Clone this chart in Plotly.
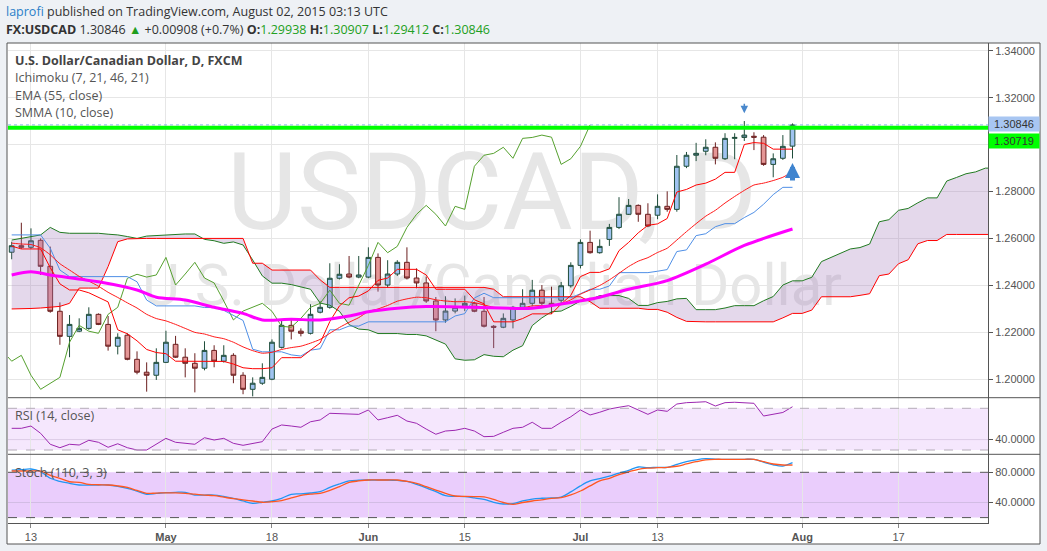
import plotly.graph_objects as go

# ---------------- data ----------------
bar_index = list(range(82))          # Apr 9 .. Jul 31 2015, daily bars
opens = [1.2541, 1.2569, 1.2562, 1.2592, 1.2481, 1.2289, 1.2182, 1.2204, 1.2216, 1.2276,
         1.2233, 1.2140, 1.2187, 1.2084, 1.2029, 1.2016, 1.2071, 1.2148, 1.2093, 1.2067,
         1.2046, 1.2122, 1.2076, 1.2101, 1.2016, 1.1956, 1.1982, 1.1999, 1.2135, 1.2229,
         1.2204, 1.2195, 1.2285, 1.2306, 1.2430, 1.2448, 1.2435, 1.2435, 1.2519, 1.2401,
         1.2448, 1.2498, 1.2431, 1.2410, 1.2333, 1.2252, 1.2290, 1.2312, 1.2323, 1.2289,
         1.2225, 1.2221, 1.2252, 1.2306, 1.2323, 1.2379, 1.2323, 1.2336, 1.2398, 1.2485,
         1.2583, 1.2539, 1.2596, 1.2647, 1.2703, 1.2741, 1.2703, 1.2699, 1.2737, 1.2724,
         1.2908, 1.2955, 1.2972, 1.2989, 1.2940, 1.3027, 1.3031, 1.3036, 1.3032, 1.2916,
         1.2942, 1.29938]
highs = [1.2586, 1.2667, 1.2643, 1.2600, 1.2565, 1.2327, 1.2273, 1.2259, 1.2306, 1.2280,
         1.2269, 1.2195, 1.2195, 1.2118, 1.2071, 1.2131, 1.2206, 1.2184, 1.2131, 1.2110,
         1.2161, 1.2144, 1.2144, 1.2110, 1.2029, 1.2007, 1.2067, 1.2169, 1.2255, 1.2255,
         1.2216, 1.2319, 1.2332, 1.2494, 1.2490, 1.2525, 1.2525, 1.2562, 1.2536, 1.2507,
         1.2507, 1.2562, 1.2472, 1.2437, 1.2350, 1.2353, 1.2344, 1.2356, 1.2330, 1.2350,
         1.2230, 1.2280, 1.2312, 1.2383, 1.2423, 1.2401, 1.2394, 1.2414, 1.2498, 1.2596,
         1.2633, 1.2596, 1.2662, 1.2776, 1.2768, 1.2745, 1.2750, 1.2788, 1.2801, 1.2956,
         1.2969, 1.3008, 1.3023, 1.3010, 1.3049, 1.3049, 1.3101, 1.3053, 1.3041, 1.2963,
         1.3041, 1.30907]
lows = [1.2511, 1.2555, 1.2555, 1.2444, 1.2283, 1.2146, 1.2093, 1.2200, 1.2210, 1.2230,
        1.2121, 1.2105, 1.2080, 1.2020, 1.1946, 1.1996, 1.2068, 1.2090, 1.2007, 1.1943,
        1.2037, 1.2050, 1.2070, 1.1982, 1.1935, 1.1926, 1.1975, 1.1995, 1.2130, 1.2169,
        1.2182, 1.2190, 1.2280, 1.2300, 1.2425, 1.2430, 1.2430, 1.2430, 1.2373, 1.2390,
        1.2440, 1.2425, 1.2387, 1.2325, 1.2204, 1.2240, 1.2280, 1.2290, 1.2285, 1.2220,
        1.2132, 1.2217, 1.2216, 1.2300, 1.2310, 1.2315, 1.2277, 1.2320, 1.2390, 1.2472,
        1.2535, 1.2535, 1.2568, 1.2640, 1.2700, 1.2671, 1.2648, 1.2682, 1.2714, 1.2714,
        1.2900, 1.2930, 1.2955, 1.2916, 1.2935, 1.2938, 1.3016, 1.2977, 1.2910, 1.2861,
        1.2935, 1.29412]
closes = [1.2569, 1.2562, 1.2590, 1.2481, 1.2289, 1.2182, 1.2233, 1.2216, 1.2276, 1.2233,
          1.2140, 1.2178, 1.2084, 1.2029, 1.2016, 1.2071, 1.2157, 1.2093, 1.2067, 1.2046,
          1.2122, 1.2076, 1.2101, 1.2016, 1.1956, 1.1982, 1.2007, 1.2157, 1.2229, 1.2204,
          1.2195, 1.2276, 1.2306, 1.2430, 1.2447, 1.2435, 1.2444, 1.2519, 1.2401, 1.2448,
          1.2498, 1.2431, 1.2410, 1.2333, 1.2252, 1.2290, 1.2306, 1.2323, 1.2289, 1.2225,
          1.2221, 1.2259, 1.2306, 1.2323, 1.2379, 1.2323, 1.2315, 1.2398, 1.2485, 1.2583,
          1.2539, 1.2566, 1.2647, 1.2703, 1.2741, 1.2703, 1.2653, 1.2737, 1.2724, 1.2908,
          1.2955, 1.2963, 1.2989, 1.2942, 1.3027, 1.3031, 1.3041, 1.3032, 1.2916, 1.2940,
          1.2993, 1.30846]

tenkan = [1.2567, 1.2555, 1.2555, 1.2555, 1.2475, 1.2406, 1.2380, 1.2380, 1.2368, 1.2347,
          1.2329, 1.2210, 1.2193, 1.2163, 1.2126, 1.2113, 1.2108, 1.2076, 1.2076, 1.2075,
          1.2075, 1.2075, 1.2075, 1.2064, 1.2048, 1.2044, 1.2044, 1.2048, 1.2091, 1.2091,
          1.2091, 1.2123, 1.2154, 1.2245, 1.2312, 1.2347, 1.2354, 1.2376, 1.2421, 1.2431,
          1.2468, 1.2468, 1.2468, 1.2444, 1.2383, 1.2383, 1.2383, 1.2383, 1.2338, 1.2321,
          1.2244, 1.2244, 1.2244, 1.2258, 1.2278, 1.2278, 1.2278, 1.2320, 1.2357, 1.2437,
          1.2455, 1.2455, 1.2470, 1.2548, 1.2583, 1.2624, 1.2656, 1.2662, 1.2685, 1.2798,
          1.2809, 1.2828, 1.2836, 1.2853, 1.2882, 1.2882, 1.3001, 1.3009, 1.3006, 1.2981,
          1.2981, 1.2981]
kijun = [1.2615, 1.2615, 1.2615, 1.2615, 1.2558, 1.2465, 1.2437, 1.2437, 1.2437, 1.2437,
         1.2437, 1.2437, 1.2437, 1.2415, 1.2337, 1.2312, 1.2312, 1.2312, 1.2312, 1.2312,
         1.2305, 1.2305, 1.2293, 1.2272, 1.2250, 1.2127, 1.2116, 1.2116, 1.2116, 1.2103,
         1.2098, 1.2123, 1.2129, 1.2210, 1.2210, 1.2226, 1.2226, 1.2244, 1.2244, 1.2244,
         1.2244, 1.2244, 1.2244, 1.2244, 1.2244, 1.2244, 1.2269, 1.2279, 1.2346, 1.2366,
         1.2347, 1.2347, 1.2347, 1.2347, 1.2347, 1.2347, 1.2347, 1.2347, 1.2347, 1.2364,
         1.2383, 1.2383, 1.2397, 1.2454, 1.2454, 1.2454, 1.2454, 1.2460, 1.2467, 1.2544,
         1.2551, 1.2612, 1.2620, 1.2650, 1.2663, 1.2663, 1.2689, 1.2711, 1.2746, 1.2787,
         1.2818, 1.2818]
chikou_index = list(range(-1, 61))
chikou = [1.2122, 1.2076, 1.2101, 1.2016, 1.1956, 1.1982, 1.2007, 1.2157, 1.2229, 1.2204,
          1.2195, 1.2276, 1.2306, 1.2430, 1.2447, 1.2435, 1.2444, 1.2519, 1.2401, 1.2448,
          1.2498, 1.2431, 1.2410, 1.2333, 1.2252, 1.2290, 1.2306, 1.2323, 1.2289, 1.2225,
          1.2221, 1.2259, 1.2306, 1.2323, 1.2379, 1.2323, 1.2315, 1.2398, 1.2485, 1.2583,
          1.2539, 1.2566, 1.2647, 1.2703, 1.2741, 1.2703, 1.2653, 1.2737, 1.2724, 1.2908,
          1.2955, 1.2963, 1.2989, 1.2942, 1.3027, 1.3031, 1.3041, 1.3032, 1.2916, 1.2940,
          1.2993, 1.30846]
cloud_index = list(range(103))
senkou_a = [1.2593, 1.2600, 1.2610, 1.2615, 1.2647, 1.2626, 1.2622, 1.2622, 1.2622, 1.2622,
            1.2618, 1.2615, 1.2608, 1.2600, 1.2610, 1.2613, 1.2616, 1.2619, 1.2619, 1.2619,
            1.2596, 1.2590, 1.2579, 1.2585, 1.2572, 1.2508, 1.2440, 1.2409, 1.2409, 1.2403,
            1.2392, 1.2383, 1.2324, 1.2315, 1.2289, 1.2232, 1.2213, 1.2210, 1.2194, 1.2194,
            1.2194, 1.2190, 1.2190, 1.2184, 1.2168, 1.2149, 1.2086, 1.2080, 1.2082, 1.2104,
            1.2097, 1.2095, 1.2123, 1.2142, 1.2228, 1.2261, 1.2287, 1.2290, 1.2310, 1.2333,
            1.2338, 1.2356, 1.2356, 1.2356, 1.2344, 1.2314, 1.2314, 1.2326, 1.2331, 1.2342,
            1.2344, 1.2296, 1.2296, 1.2296, 1.2303, 1.2313, 1.2313, 1.2313, 1.2334, 1.2352,
            1.2401, 1.2419, 1.2419, 1.2434, 1.2501, 1.2519, 1.2539, 1.2555, 1.2561, 1.2576,
            1.2671, 1.2680, 1.2720, 1.2728, 1.2752, 1.2773, 1.2773, 1.2845, 1.2860, 1.2876,
            1.2884, 1.2900, 1.2900]
senkou_b = [1.2299, 1.2299, 1.2301, 1.2303, 1.2306, 1.2310, 1.2323, 1.2388, 1.2388, 1.2388,
            1.2480, 1.2586, 1.2598, 1.2600, 1.2600, 1.2600, 1.2600, 1.2600, 1.2600, 1.2600,
            1.2600, 1.2600, 1.2600, 1.2600, 1.2600, 1.2494, 1.2494, 1.2465, 1.2465, 1.2465,
            1.2465, 1.2465, 1.2423, 1.2391, 1.2391, 1.2391, 1.2391, 1.2391, 1.2391, 1.2391,
            1.2391, 1.2391, 1.2391, 1.2391, 1.2391, 1.2391, 1.2391, 1.2391, 1.2391, 1.2391,
            1.2383, 1.2351, 1.2351, 1.2351, 1.2351, 1.2351, 1.2351, 1.2351, 1.2351, 1.2351,
            1.2330, 1.2302, 1.2302, 1.2302, 1.2302, 1.2302, 1.2297, 1.2297, 1.2285, 1.2263,
            1.2246, 1.2244, 1.2244, 1.2244, 1.2244, 1.2244, 1.2244, 1.2244, 1.2244, 1.2244,
            1.2261, 1.2280, 1.2280, 1.2294, 1.2351, 1.2351, 1.2351, 1.2351, 1.2357, 1.2364,
            1.2441, 1.2448, 1.2492, 1.2509, 1.2577, 1.2591, 1.2591, 1.2617, 1.2617, 1.2617,
            1.2617, 1.2617, 1.2617]
smma10 = [1.2580, 1.2576, 1.2574, 1.2560, 1.2530, 1.2492, 1.2465, 1.2438, 1.2418, 1.2396,
          1.2370, 1.2348, 1.2325, 1.2303, 1.2276, 1.2258, 1.2248, 1.2233, 1.2216, 1.2199,
          1.2192, 1.2180, 1.2172, 1.2157, 1.2137, 1.2121, 1.2110, 1.2114, 1.2126, 1.2134,
          1.2140, 1.2153, 1.2169, 1.2195, 1.2220, 1.2242, 1.2262, 1.2288, 1.2299, 1.2314,
          1.2332, 1.2342, 1.2349, 1.2347, 1.2338, 1.2333, 1.2330, 1.2330, 1.2326, 1.2316,
          1.2306, 1.2301, 1.2302, 1.2304, 1.2312, 1.2313, 1.2313, 1.2321, 1.2338, 1.2362,
          1.2380, 1.2399, 1.2423, 1.2451, 1.2480, 1.2503, 1.2518, 1.2540, 1.2558, 1.2593,
          1.2629, 1.2663, 1.2695, 1.2720, 1.2751, 1.2779, 1.2805, 1.2828, 1.2836, 1.2847,
          1.2861, 1.2884]
ema_index = [0, 2, 4, 9, 13, 15, 18, 21, 24, 26, 29, 32, 35, 37, 40, 43, 48, 54, 57, 61,
             64, 68, 72, 76, 81]
ema55 = [1.2444, 1.2458, 1.2444, 1.2415, 1.2380, 1.2349, 1.2337, 1.2306, 1.2280, 1.2252,
         1.2255, 1.2252, 1.2269, 1.2287, 1.2302, 1.2309, 1.2306, 1.2302, 1.2320, 1.2349,
         1.2383, 1.2420, 1.2490, 1.2570, 1.2640]

rsi14 = [50.8, 50.8, 53.0, 46.0, 35.5, 32.2, 35.5, 34.8, 39.3, 37.4,
         32.6, 36.0, 32.2, 30.0, 30.0, 35.5, 41.2, 37.4, 36.4, 35.5,
         41.8, 39.6, 41.2, 36.4, 34.5, 36.4, 38.0, 50.1, 54.0, 53.0,
         51.8, 57.1, 58.8, 65.2, 64.8, 64.2, 64.2, 68.4, 58.8, 61.0,
         63.3, 57.8, 55.6, 50.1, 45.1, 48.2, 48.9, 50.8, 48.2, 42.8,
         43.1, 47.0, 50.8, 51.8, 56.6, 50.8, 50.8, 56.6, 61.9, 68.4,
         63.6, 66.2, 69.3, 71.0, 72.5, 68.4, 64.2, 68.4, 67.1, 74.1,
         75.4, 75.8, 76.3, 72.2, 75.4, 75.8, 75.6, 74.8, 62.6, 64.0,
         66.0, 71.5]
stoch_k = [83.0, 83.5, 84.4, 80.8, 72.1, 68.0, 65.4, 63.2, 63.2, 63.2,
           63.2, 61.5, 58.8, 55.0, 50.9, 52.0, 53.0, 53.5, 53.5, 49.9,
           49.9, 49.9, 48.0, 45.6, 42.0, 38.9, 40.3, 42.0, 45.6, 50.9,
           51.5, 52.6, 54.3, 60.0, 64.5, 68.5, 69.5, 69.8, 69.8, 69.8,
           69.3, 68.0, 64.1, 59.5, 54.3, 49.0, 48.2, 47.7, 46.0, 44.0,
           40.3, 38.0, 38.5, 42.0, 44.6, 45.6, 46.0, 47.2, 54.0, 62.0,
           68.5, 71.5, 75.0, 79.0, 82.5, 87.0, 86.1, 86.6, 86.6, 90.5,
           94.0, 96.5, 98.0, 97.5, 97.2, 97.2, 97.2, 97.0, 93.5, 90.0,
           88.3, 92.7]
stoch_d = [81.7, 81.7, 81.7, 81.7, 76.0, 72.0, 67.5, 66.8, 64.1, 63.5,
           63.2, 62.0, 60.0, 56.0, 52.2, 52.5, 52.7, 52.7, 52.2, 51.0,
           49.9, 49.0, 47.0, 45.0, 43.5, 42.0, 40.3, 41.0, 42.5, 46.0,
           49.5, 51.0, 52.2, 56.0, 61.0, 66.5, 68.5, 69.8, 69.8, 69.8,
           69.8, 68.0, 65.4, 61.0, 56.5, 52.2, 48.6, 48.0, 47.7, 47.5,
           44.0, 40.0, 37.6, 40.0, 42.0, 43.5, 45.5, 46.4, 50.0, 55.2,
           62.0, 68.5, 72.0, 77.0, 80.5, 84.0, 85.5, 86.1, 86.6, 88.0,
           91.0, 94.0, 96.5, 97.2, 97.2, 97.2, 97.2, 97.2, 94.0, 91.0,
           89.7, 89.7]

tick_index = [2, 16, 27, 37, 47, 59, 67, 82, 92]
tick_text = ['13', '<b>May</b>', '18', '<b>Jun</b>', '15', '<b>Jul</b>', '13', '<b>Aug</b>', '17']
price_ticks = [1.20, 1.22, 1.24, 1.26, 1.28, 1.30, 1.32, 1.34]
# the 1.30000 label sits under the 1.30719 marker box in the picture
price_tick_text = ['1.20000', '1.22000', '1.24000', '1.26000', '1.28000', '', '1.32000', '1.34000']
last_price = 1.30846
level_line = 1.30719

# ---------------- geometry ----------------
W, H = 1047, 551
ML, MR, MT, MB = 8, 59, 43, 28
PW, PH = W - ML - MR, H - MT - MB


def px(x):
    return (x - ML) / PW


def py(y):
    return (H - MB - y) / PH


MAIN_DOM = [py(397.7), 1.0]
RSI_DOM = [py(454.3), py(397.7)]
STO_DOM = [0.0, py(454.3)]

AX_FONT = dict(family='Liberation Sans, Arial, sans-serif', size=11, color='#555555')
TXT_FONT = 'Open Sans, Noto Sans, sans-serif'
WM_FONT = 'Roboto, Liberation Sans, sans-serif'

fig = go.Figure()

# Ichimoku cloud
fig.add_trace(go.Scatter(x=cloud_index, y=senkou_a, mode='lines',
                         line=dict(color='#217a21', width=1), showlegend=False, hoverinfo='skip'))
fig.add_trace(go.Scatter(x=cloud_index, y=senkou_b, mode='lines', fill='tonexty',
                         fillcolor='rgba(165,125,190,0.30)',
                         line=dict(color='#ff0000', width=1), showlegend=False, hoverinfo='skip'))
fig.add_trace(go.Scatter(x=chikou_index, y=chikou, mode='lines',
                         line=dict(color='#55a02e', width=1), showlegend=False, hoverinfo='skip'))
fig.add_trace(go.Scatter(x=bar_index, y=kijun, mode='lines',
                         line=dict(color='#4f8fe6', width=1), showlegend=False, hoverinfo='skip'))
fig.add_trace(go.Scatter(x=bar_index, y=tenkan, mode='lines',
                         line=dict(color='#ff0000', width=1), showlegend=False, hoverinfo='skip'))
fig.add_trace(go.Scatter(x=bar_index, y=smma10, mode='lines',
                         line=dict(color='#ff1a1a', width=1, shape='spline', smoothing=0.5),
                         showlegend=False, hoverinfo='skip'))
fig.add_trace(go.Scatter(x=ema_index, y=ema55, mode='lines',
                         line=dict(color='#ff00ff', width=3, shape='spline', smoothing=0.8),
                         showlegend=False, hoverinfo='skip'))

# candles
fig.add_trace(go.Candlestick(x=bar_index, open=opens, high=highs, low=lows, close=closes,
                             increasing=dict(line=dict(color='#1f4d3a', width=1), fillcolor='#9fc3f0'),
                             decreasing=dict(line=dict(color='#6b1f1f', width=1), fillcolor='#e59696'),
                             whiskerwidth=0, showlegend=False, hoverinfo='skip'))

# RSI
fig.add_trace(go.Scatter(x=bar_index, y=rsi14, mode='lines', yaxis='y2',
                         line=dict(color='#9c27b0', width=1), showlegend=False, hoverinfo='skip'))
# Stochastic
fig.add_trace(go.Scatter(x=bar_index, y=stoch_k, mode='lines', yaxis='y3',
                         line=dict(color='#2196f3', width=1.3, shape='spline'), showlegend=False,
                         hoverinfo='skip'))
fig.add_trace(go.Scatter(x=bar_index, y=stoch_d, mode='lines', yaxis='y3',
                         line=dict(color='#ff5722', width=1.3, shape='spline'), showlegend=False,
                         hoverinfo='skip'))

shapes = [
    # white panel
    dict(type='rect', xref='paper', yref='paper', x0=px(7), x1=px(1040), y0=py(544), y1=1,
         fillcolor='white', line=dict(width=0), layer='below'),
    # watermark, kept beneath every trace
    dict(type='rect', xref='paper', yref='paper', x0=px(150), x1=px(834), y0=py(350), y1=py(182),
         fillcolor='rgba(0,0,0,0)', line=dict(width=0), layer='below',
         label=dict(text="<span style='font-size:108px'>USDCAD, D</span><br>"
                         "U.S. Dollar/Canadian Dollar",
                    font=dict(family=WM_FONT, size=58, color='#e6e6e6'),
                    textposition='middle center')),
    # indicator bands
    dict(type='rect', xref='paper', yref='y2', x0=0, x1=1, y0=30, y1=70,
         fillcolor='#f5e7fd', line=dict(width=0), layer='below'),
    dict(type='rect', xref='paper', yref='y3', x0=0, x1=1, y0=20, y1=80,
         fillcolor='#eacdfc', line=dict(width=0), layer='below'),
    dict(type='line', xref='paper', yref='y2', x0=0, x1=1, y0=40, y1=40,
         line=dict(color='#dccde6', width=1), layer='below'),
    dict(type='line', xref='paper', yref='y3', x0=0, x1=1, y0=40, y1=40,
         line=dict(color='#d2bce4', width=1), layer='below'),
    dict(type='line', xref='paper', yref='y2', x0=0, x1=1, y0=70, y1=70,
         line=dict(color='#b4acb8', width=1, dash='dash')),
    dict(type='line', xref='paper', yref='y2', x0=0, x1=1, y0=30, y1=30,
         line=dict(color='#b4acb8', width=1, dash='dash')),
    dict(type='line', xref='paper', yref='y3', x0=0, x1=1, y0=80, y1=80,
         line=dict(color='#555555', width=1, dash='dash')),
    dict(type='line', xref='paper', yref='y3', x0=0, x1=1, y0=20, y1=20,
         line=dict(color='#555555', width=1, dash='dash')),
    # price lines
    dict(type='line', xref='paper', yref='y', x0=0, x1=1, y0=last_price, y1=last_price,
         line=dict(color='#8fb6e8', width=1, dash='dot')),
    dict(type='line', xref='paper', yref='y', x0=0, x1=1, y0=level_line, y1=level_line,
         line=dict(color='#00ff00', width=4)),
    # pane separators & frame
    dict(type='line', xref='paper', yref='paper', x0=0, x1=px(1040), y0=py(397.7), y1=py(397.7),
         line=dict(color='#555555', width=1)),
    dict(type='line', xref='paper', yref='paper', x0=0, x1=px(1040), y0=py(454.3), y1=py(454.3),
         line=dict(color='#555555', width=1)),
    dict(type='rect', xref='paper', yref='paper', x0=px(7), x1=px(1040), y0=py(544), y1=1,
         line=dict(color='#555555', width=1)),
]

annotations = [
    dict(xref='paper', yref='paper', x=px(4), y=py(11), xanchor='left', yanchor='middle',
         showarrow=False, font=dict(family=TXT_FONT, size=12.5, color='#333333'),
         text="<span style='color:#2a7fc9'>laprofi</span> published on TradingView.com, "
              "August 02, 2015 03:13 UTC"),
    dict(xref='paper', yref='paper', x=px(4), y=py(29), xanchor='left', yanchor='middle',
         showarrow=False, font=dict(family=TXT_FONT, size=12.5, color='#333333'),
         text="<b>FX:USDCAD</b> 1.30846 <span style='color:#1f9e1f'>▲</span> +0.00908 (+0.7%) "
              "<b>O:</b><span style='color:#22a022'>1.29938</span> "
              "<b>H:</b><span style='color:#22a022'>1.30907</span> "
              "<b>L:</b><span style='color:#22a022'>1.29412</span> "
              "<b>C:</b><span style='color:#22a022'>1.30846</span>"),
    dict(xref='paper', yref='paper', x=px(13), y=py(60.5), xanchor='left', yanchor='middle',
         showarrow=False, font=dict(family=TXT_FONT, size=12.5, color='#444444'),
         text='<b>U.S. Dollar/Canadian Dollar, D, FXCM</b>'),
    dict(xref='paper', yref='paper', x=px(13), y=py(78), xanchor='left', yanchor='middle',
         showarrow=False, font=dict(family=TXT_FONT, size=12.5, color='#555555'),
         text='Ichimoku (7, 21, 46, 21)'),
    dict(xref='paper', yref='paper', x=px(13), y=py(95.3), xanchor='left', yanchor='middle',
         showarrow=False, font=dict(family=TXT_FONT, size=12.5, color='#555555'),
         text='EMA (55, close)'),
    dict(xref='paper', yref='paper', x=px(13), y=py(112.5), xanchor='left', yanchor='middle',
         showarrow=False, font=dict(family=TXT_FONT, size=12.5, color='#555555'),
         text='SMMA (10, close)'),
    dict(xref='paper', yref='paper', x=px(13), y=py(415), xanchor='left', yanchor='middle',
         showarrow=False, font=dict(family=TXT_FONT, size=12.5, color='#555555'),
         text='RSI (14, close)'),
    dict(xref='paper', yref='paper', x=px(13), y=py(472.5), xanchor='left', yanchor='middle',
         showarrow=False, font=dict(family=TXT_FONT, size=12.5, color='#555555'),
         text='Stoch (110, 3, 3)'),
    # price labels on the axis
    dict(xref='paper', yref='y', x=1, y=last_price, yshift=1, xanchor='left', yanchor='middle',
         showarrow=False, bgcolor='#a8c6f2', width=48, height=12, align='center',
         font=dict(family='Liberation Sans, Arial, sans-serif', size=11, color='#333333'),
         text='1.30846'),
    dict(xref='paper', yref='y', x=1, y=level_line, yshift=-13, xanchor='left', yanchor='middle',
         showarrow=False, bgcolor='#00ff00', width=48, height=12, align='center',
         font=dict(family='Liberation Sans, Arial, sans-serif', size=11, color='#333333'),
         text='1.30719'),
    # arrows drawn on chart
    dict(xref='x', yref='y', x=76, y=1.3134, ax=0, ay=-11, showarrow=True, arrowhead=2,
         arrowsize=1, arrowwidth=1.5, arrowcolor='#4a88cc', text=''),
    dict(xref='x', yref='y', x=81, y=1.2922, ax=0, ay=19, showarrow=True, arrowhead=2,
         arrowsize=0.6, arrowwidth=5, arrowcolor='#3f84cf', text=''),
]

fig.update_layout(
    width=W, height=H,
    margin=dict(l=ML, r=MR, t=MT, b=MB, pad=0),
    paper_bgcolor='#eef1f5',
    plot_bgcolor='rgba(0,0,0,0)',
    hovermode=False,
    showlegend=False,
    shapes=shapes,
    annotations=annotations,
    xaxis=dict(domain=[0, 1], range=[-0.384, 101.28], anchor='y3',
               tickmode='array', tickvals=tick_index, ticktext=tick_text,
               showgrid=True, gridcolor='#e6e6e6', gridwidth=1, zeroline=False,
               ticks='outside', ticklen=4, tickcolor='#888888', tickfont=AX_FONT,
               showline=True, linecolor='#555555', linewidth=1,
               rangeslider=dict(visible=False), fixedrange=True),
    yaxis=dict(domain=MAIN_DOM, range=[1.192019, 1.343406], side='right', anchor='x',
               tickmode='array', tickvals=price_ticks, ticktext=price_tick_text,
               showgrid=True, gridcolor='#e6e6e6', zeroline=False,
               ticks='outside', ticklen=4, tickcolor='#555555', tickfont=AX_FONT,
               showline=True, linecolor='#555555', linewidth=1, fixedrange=True),
    yaxis2=dict(domain=RSI_DOM, range=[25.88, 80.17], side='right', anchor='x',
                tickmode='array', tickvals=[40], ticktext=['40.0000'],
                showgrid=False, zeroline=False,
                ticks='outside', ticklen=4, tickcolor='#555555', tickfont=AX_FONT,
                showline=True, linecolor='#555555', linewidth=1, fixedrange=True),
    yaxis3=dict(domain=STO_DOM, range=[12.85, 103.84], side='right', anchor='x',
                tickmode='array', tickvals=[40, 80], ticktext=['40.0000', '80.0000'],
                showgrid=False, zeroline=False,
                ticks='outside', ticklen=4, tickcolor='#555555', tickfont=AX_FONT,
                showline=True, linecolor='#555555', linewidth=1, fixedrange=True),
)

fig.write_html('out.html', config={'displayModeBar': False})
